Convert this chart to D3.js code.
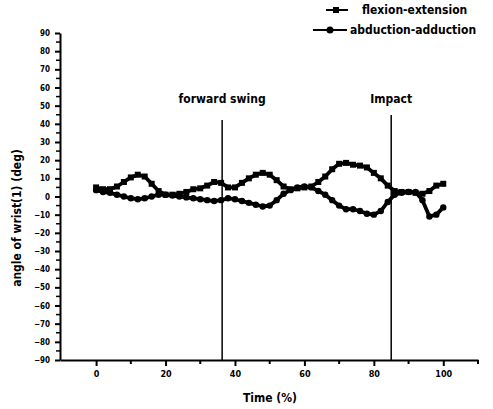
<!DOCTYPE html>
<html lang="en">
<head>
    <meta charset="UTF-8">
    <title>wrist angle</title>
    <script src="https://cdn.jsdelivr.net/npm/d3@7"></script>
</head>
<style>
    body { margin: 0; background: #fff; }
    text { font-family: "DejaVu Sans Condensed", "Liberation Sans Narrow", sans-serif; font-weight: bold; }
</style>
<body>
</body>
</html>
<script>
    // time (%) sampled every 2
    var time = d3.range(0, 101, 2);
    var flexion = [5, 4, 4, 5.5, 8, 10.5, 12, 11, 7, 3, 1, 1, 1.5, 2.5, 4, 4.5, 6, 8, 7.5, 5,
                   5, 7.5, 10, 12, 13, 12, 9, 5.5, 4, 4.5, 5, 5.5, 8, 11, 15, 18, 18.5, 17.5, 17, 16,
                   13, 10, 6, 3, 2.5, 2.5, 2, 1.5, 3, 6, 7];
    var abduction = [3.5, 2.5, 2, 1, 0, -1, -1.5, -1, 0, 1, 1, 0.5, 0, -0.5, -1, -1.5, -2, -2.5, -2, -1,
                     -1.5, -2.5, -3.5, -4.5, -5.5, -5, -2, 1.5, 3.5, 5, 5.5, 5, 3, 1, -2, -5, -7, -7, -8, -9.5,
                     -10, -8, -3, 1, 2, 2.5, 2.5, -2, -11, -10, -6];
    var xTicks = [0, 20, 40, 60, 80, 100];
    var yTicks = d3.range(-90, 91, 10);
    var events = [{t: 36.3, label: "forward swing", top: 120}, {t: 85, label: "Impact", top: 115}];

    var w = 493, h = 409;
    var svg = d3.select("body").append("svg").attr("width", w).attr("height", h);

    var x = d3.scaleLinear().domain([-10.4, 110]).range([60, 478]);
    var y = d3.scaleLinear().domain([-90, 90]).range([360, 33]);

    // x axis
    var xAxis = svg.append("g").attr("transform", "translate(0," + y(-90) + ")")
            .call(d3.axisBottom(x).tickValues(xTicks).tickSize(6).tickPadding(5).tickSizeOuter(0));
    xAxis.append("g").selectAll("line").data([10, 30, 50, 70, 90, 110]).enter().append("line")
            .attr("x1", function (d) { return x(d); }).attr("x2", function (d) { return x(d); })
            .attr("y1", 0).attr("y2", 4).attr("stroke", "#000").attr("stroke-width", 2);
    xAxis.selectAll("text").attr("font-size", "9px").attr("fill", "#000");

    // y axis
    var yAxis = svg.append("g").attr("transform", "translate(" + x(-10.4) + ",0)")
            .call(d3.axisLeft(y).tickValues(yTicks).tickSize(5).tickPadding(5).tickSizeOuter(0));
    yAxis.append("g").selectAll("line").data(d3.range(-85, 90, 10)).enter().append("line")
            .attr("x1", -4).attr("x2", 0)
            .attr("y1", function (d) { return y(d); }).attr("y2", function (d) { return y(d); })
            .attr("stroke", "#000").attr("stroke-width", 1.5);
    yAxis.selectAll("text").attr("font-size", "8px").attr("fill", "#000");
    svg.selectAll(".domain").attr("stroke-width", 2);
    svg.selectAll(".tick line").attr("stroke-width", 2);

    // event lines
    svg.selectAll("line.ev").data(events).enter().append("line").attr("class", "ev")
            .attr("x1", function (d) { return x(d.t); }).attr("x2", function (d) { return x(d.t); })
            .attr("y1", function (d) { return d.top; }).attr("y2", y(-90))
            .attr("stroke", "#000").attr("stroke-width", 1.5);
    svg.selectAll("text.ev").data(events).enter().append("text").attr("class", "ev")
            .attr("x", function (d) { return x(d.t); }).attr("y", 103)
            .attr("text-anchor", "middle").attr("font-size", "12px")
            .text(function (d) { return d.label; });

    // series
    var line = d3.line().x(function (d) { return x(d[0]); }).y(function (d) { return y(d[1]); });
    var s1 = d3.zip(time, flexion), s2 = d3.zip(time, abduction);
    [s1, s2].forEach(function (s) {
        svg.append("path").datum(s).attr("d", line).attr("fill", "none")
                .attr("stroke", "#000").attr("stroke-width", 3.8).attr("stroke-linejoin", "round");
    });
    svg.selectAll("rect.m").data(s1).enter().append("rect").attr("class", "m")
            .attr("x", function (d) { return x(d[0]) - 3; }).attr("y", function (d) { return y(d[1]) - 3; })
            .attr("width", 6).attr("height", 6).attr("fill", "#000");
    svg.selectAll("circle.m").data(s2).enter().append("circle").attr("class", "m")
            .attr("cx", function (d) { return x(d[0]); }).attr("cy", function (d) { return y(d[1]); })
            .attr("r", 3.2).attr("fill", "#000");

    // legend
    var lg = svg.append("g");
    lg.append("line").attr("x1", 326).attr("x2", 348).attr("y1", 10).attr("y2", 10).attr("stroke", "#000").attr("stroke-width", 2);
    lg.append("rect").attr("x", 333).attr("y", 7).attr("width", 6).attr("height", 6).attr("fill", "#000");
    lg.append("text").attr("x", 362).attr("y", 14).attr("font-size", "12px").text("flexion-extension");
    lg.append("line").attr("x1", 313).attr("x2", 347).attr("y1", 30).attr("y2", 30).attr("stroke", "#000").attr("stroke-width", 2);
    lg.append("circle").attr("cx", 330).attr("cy", 30).attr("r", 3.5).attr("fill", "#000");
    lg.append("text").attr("x", 350).attr("y", 34).attr("font-size", "12px").text("abduction-adduction");

    // axis titles
    svg.append("text").attr("x", 270).attr("y", 402).attr("text-anchor", "middle")
            .attr("font-size", "12px").text("Time (%)");
    svg.append("text").attr("transform", "translate(21,218) rotate(-90)").attr("text-anchor", "middle")
            .attr("font-size", "12px").text("angle of wrist(1) (deg)");
</script>
